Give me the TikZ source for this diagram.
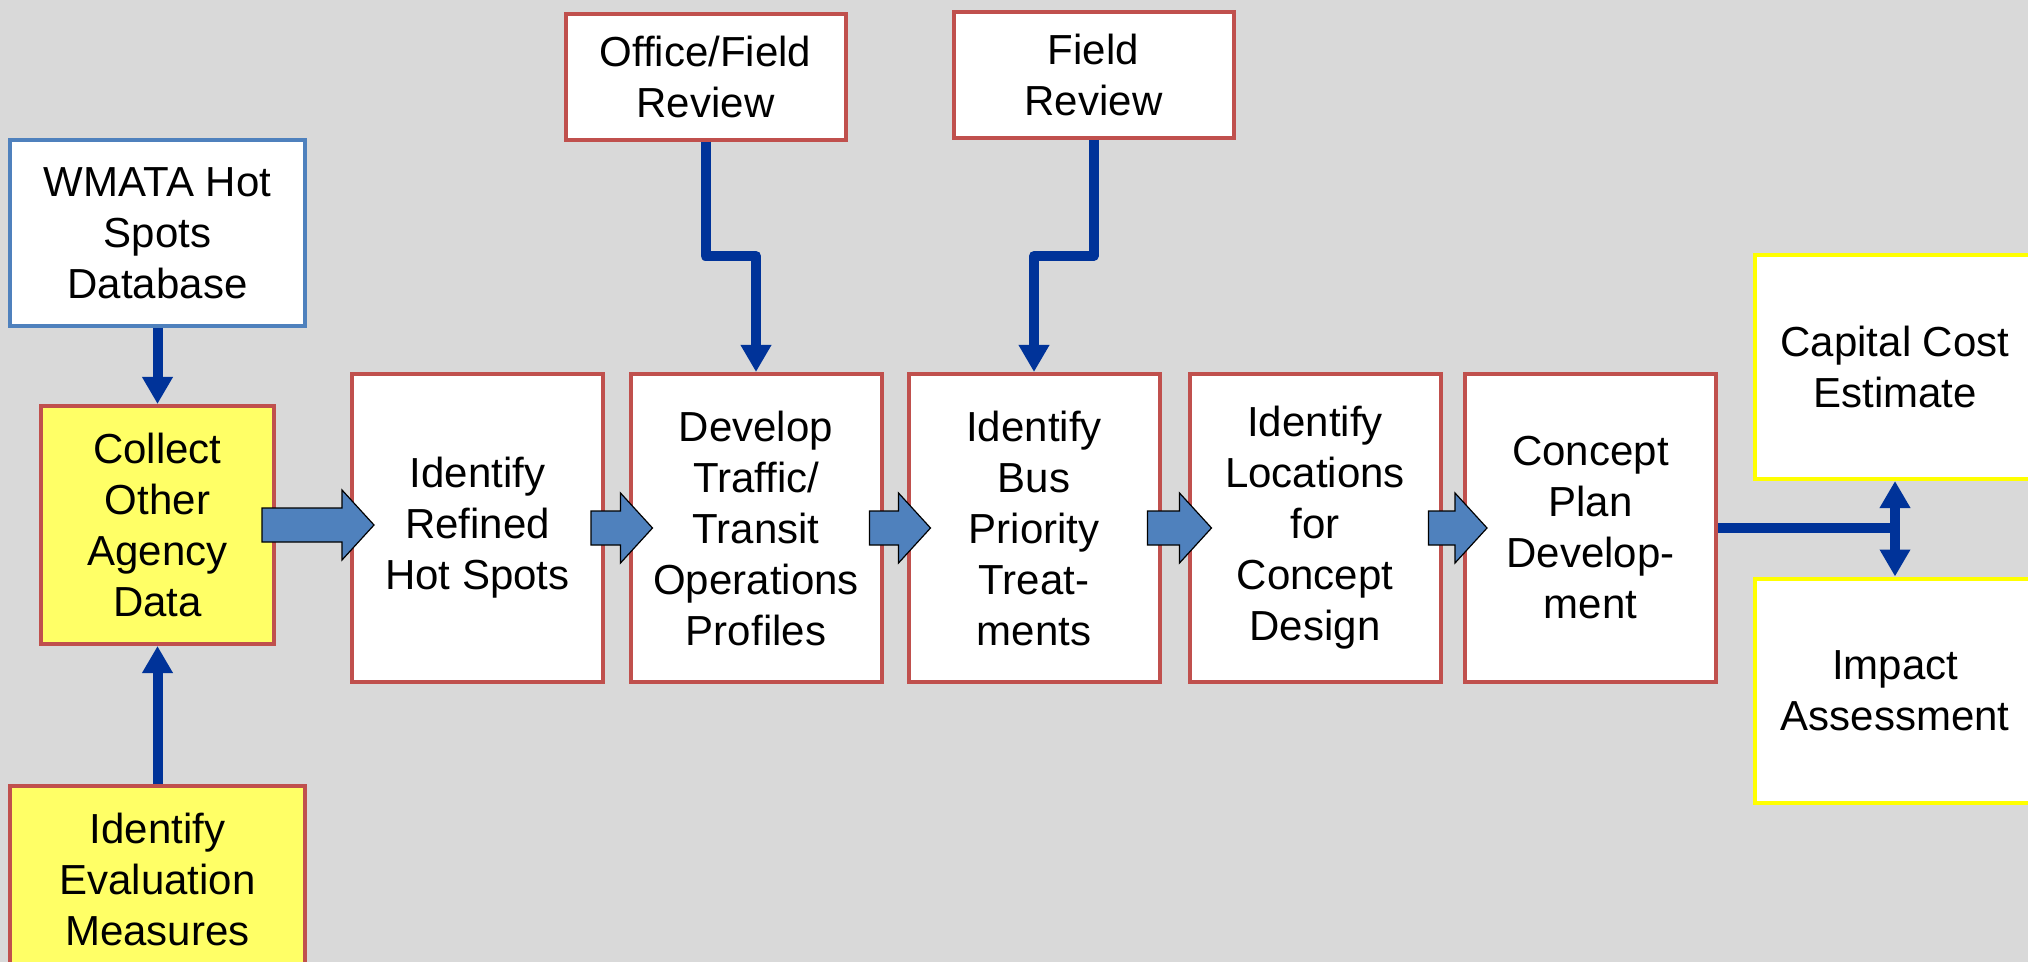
\documentclass[tikz,border=0pt]{standalone}
\usepackage{fontspec}
\setmainfont{Liberation Sans}
\usetikzlibrary{arrows.meta,calc}
\definecolor{bg}{HTML}{D9D9D9}
\definecolor{boxred}{HTML}{C0504D}
\definecolor{boxblue}{HTML}{4F81BD}
\definecolor{boxyellow}{HTML}{FFFF00}
\definecolor{fillyellow}{HTML}{FFFF66}
\definecolor{linkblue}{HTML}{003399}
\definecolor{arrowfill}{HTML}{4F81BD}
\tikzset{
  box/.style={draw=boxred, fill=white, line width=2pt, align=center, inner sep=0pt,
    font=\fontsize{21pt}{25.5pt}\selectfont},
  procbox/.style={box, minimum width=125.5pt, minimum height=154pt},
  inbox/.style={box, minimum width=140pt, minimum height=63pt},
  sidebox/.style={box, minimum width=147.5pt, minimum height=93pt},
  outbox/.style={box, draw=boxyellow, minimum width=140pt, minimum height=112pt},
  link/.style={draw=linkblue, line width=5pt, line join=round, -{Triangle[width=14.5pt,length=13.5pt]}},
  plainlink/.style={draw=linkblue, line width=5pt},
  duallink/.style={draw=linkblue, line width=5pt, {Triangle[width=14.5pt,length=13.5pt]}-{Triangle[width=14.5pt,length=13.5pt]}},
  barrowstyle/.style={fill=arrowfill, draw=black, line width=0.6pt, line join=miter}
}
\newcommand\blockarr[2]{%
  \draw[barrowstyle] let \p1=([xshift=-7pt]#1.east), \p2=([xshift=12pt]#2.west) in
    (\x1,\y1+8.5pt) -- (\x2-16pt,\y1+8.5pt) -- (\x2-16pt,\y1+17.5pt) -- (\x2,\y1)
    -- (\x2-16pt,\y1-17.5pt) -- (\x2-16pt,\y1-8.5pt) -- (\x1,\y1-8.5pt) -- cycle;}
\begin{document}
\begin{tikzpicture}[x=0.5pt,y=-0.5pt]
\clip (0,0) rectangle (2028,962);
\fill[bg] (0,0) rectangle (2028,962);

\node[sidebox, draw=boxblue] (wm) at (157.5,233) {WMATA Hot\\Spots\\Database};
\node[box, fill=fillyellow, minimum width=116.5pt, minimum height=119pt] (col) at (157.5,525) {Collect\\Other\\Agency\\Data};
\node[sidebox, fill=fillyellow] (ev) at (157.5,879) {Identify\\Evaluation\\Measures};

\node[procbox] (ref) at (477.5,528) {Identify\\Refined\\Hot Spots};
\node[procbox] (dev) at (756,528) {Develop\\Traffic/\\Transit\\Operations\\Profiles};
\node[procbox] (bus) at (1034,528) {Identify\\Bus\\Priority\\Treat-\\ments};
\node[procbox] (loc) at (1315,528) {Identify\\Locations\\for\\Concept\\Design};
\node[procbox] (con) at (1590.5,528) {Concept\\Plan\\Develop-\\ment};

\node[inbox] (off) at (705.5,77) {Office/Field\\Review};
\node[inbox] (fld) at (1093.5,75) {Field\\Review};

\node[outbox] (cap) at (1895,367) {Capital Cost\\Estimate};
\node[outbox] (imp) at (1895,690.5) {Impact\\Assessment};

\draw[link] (wm.south) -- (col.north);
\draw[link] (ev.north) -- (col.south);
\draw[link] (off.south) -- (off.south |- 0,256) -| (dev.north);
\draw[link] (fld.south) -- (fld.south |- 0,256) -| (bus.north);

\coordinate (j) at (cap.south |- con.east);
\draw[plainlink] (con.east) -- (j);
\draw[duallink] (cap.south) -- (imp.north);

\blockarr{col}{ref}
\blockarr{ref}{dev}
\blockarr{dev}{bus}
\blockarr{bus}{loc}
\blockarr{loc}{con}
\end{tikzpicture}
\end{document}
